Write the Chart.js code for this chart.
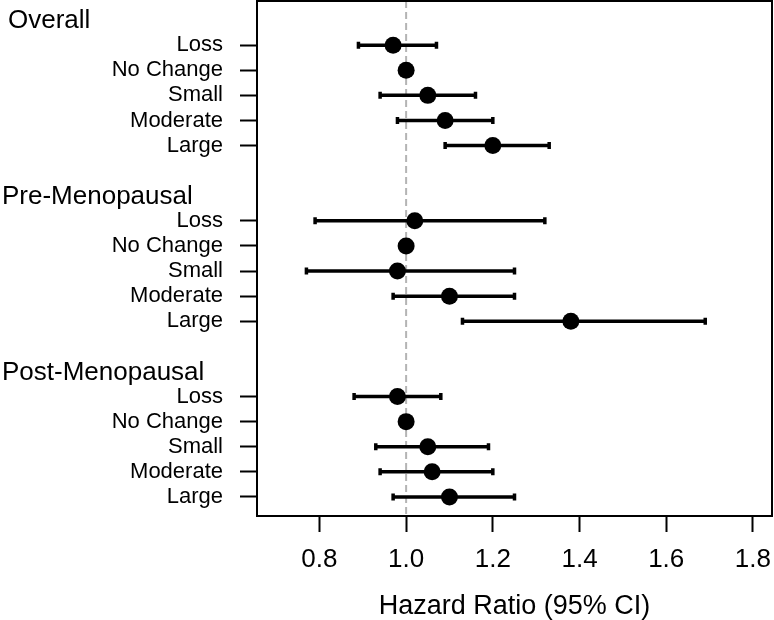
<!DOCTYPE html>
<html>
<head>
<meta charset="utf-8">
<script src="https://cdn.jsdelivr.net/npm/chart.js@4.4.1/dist/chart.umd.min.js"></script>
<style>
  html, body { margin: 0; padding: 0; background: #ffffff; }
  canvas { display: block; }
</style>
</head>
<body>
<canvas id="c" width="774" height="620"></canvas>
<script>
// ---- data ----
const groups = ["Overall", "Pre-Menopausal", "Post-Menopausal"];
const categories = ["Loss", "No Change", "Small", "Moderate", "Large"];

const overallHR = [0.97, 1.00, 1.05, 1.09, 1.20];
const overallLo = [0.89, 1.00, 0.94, 0.98, 1.09];
const overallHi = [1.07, 1.00, 1.16, 1.20, 1.33];

const preHR = [1.02, 1.00, 0.98, 1.10, 1.38];
const preLo = [0.79, 1.00, 0.77, 0.97, 1.13];
const preHi = [1.32, 1.00, 1.25, 1.25, 1.69];

const postHR = [0.98, 1.00, 1.05, 1.06, 1.10];
const postLo = [0.88, 1.00, 0.93, 0.94, 0.97];
const postHi = [1.08, 1.00, 1.19, 1.20, 1.25];

const xTicks = [0.8, 1.0, 1.2, 1.4, 1.6, 1.8];
const refLine = 1.0;

// ---- build rows ----
const groupHR = [overallHR, preHR, postHR];
const groupLo = [overallLo, preLo, postLo];
const groupHi = [overallHi, preHi, postHi];
const rowSpan = categories.length + 2; // header + items + blank
const headerRows = groups.map((g, gi) => gi * rowSpan);
const points = [];
const rowLabels = {};
groups.forEach((g, gi) => {
  categories.forEach((c, ci) => {
    const row = gi * rowSpan + 1 + ci;
    rowLabels[row] = c;
    points.push({ x: groupHR[gi][ci], y: row, lo: groupLo[gi][ci], hi: groupHi[gi][ci] });
  });
});
const itemRows = Object.keys(rowLabels).map(Number);
const lastRow = (groups.length - 1) * rowSpan + categories.length;
const yPad = lastRow * 0.04;

const FONT = "'Liberation Sans', Arial, sans-serif";

const forestPlugin = {
  id: 'forest',
  beforeDatasetsDraw(chart) {
    const { ctx, chartArea, scales } = chart;
    const x = scales.x, y = scales.y;
    // reference line
    ctx.save();
    ctx.strokeStyle = '#b4b4b4';
    ctx.lineWidth = 2;
    ctx.setLineDash([7, 4]);
    const rx = x.getPixelForValue(refLine);
    ctx.beginPath();
    ctx.moveTo(rx, chartArea.top);
    ctx.lineTo(rx, chartArea.bottom);
    ctx.stroke();
    ctx.restore();
    // error bars
    ctx.save();
    ctx.strokeStyle = '#000';
    ctx.lineWidth = 3.5;
    ctx.lineCap = 'butt';
    points.forEach(p => {
      if (p.hi - p.lo <= 0) return;
      const py = y.getPixelForValue(p.y);
      const x0 = x.getPixelForValue(p.lo), x1 = x.getPixelForValue(p.hi);
      ctx.beginPath();
      ctx.moveTo(x0, py); ctx.lineTo(x1, py);
      ctx.stroke();
      ctx.beginPath();
      ctx.moveTo(x0, py - 3.5); ctx.lineTo(x0, py + 3.5);
      ctx.moveTo(x1, py - 3.5); ctx.lineTo(x1, py + 3.5);
      ctx.stroke();
    });
    ctx.restore();
  },
  afterDraw(chart) {
    const { ctx, chartArea, scales } = chart;
    ctx.save();
    // box
    ctx.strokeStyle = '#000';
    ctx.lineWidth = 2;
    ctx.strokeRect(chartArea.left, chartArea.top, chartArea.right - chartArea.left, chartArea.bottom - chartArea.top);
    // group headers
    ctx.fillStyle = '#000';
    ctx.font = '26px ' + FONT;
    ctx.textAlign = 'left';
    ctx.textBaseline = 'middle';
    groups.forEach((g, gi) => {
      ctx.fillText(g, gi === 0 ? 8 : 2, scales.y.getPixelForValue(headerRows[gi]) + 1);
    });
    ctx.restore();
  }
};

new Chart(document.getElementById('c'), {
  type: 'scatter',
  data: {
    datasets: [{
      data: points,
      pointRadius: 8.5,
      pointHoverRadius: 8.5,
      pointBackgroundColor: '#000',
      pointBorderWidth: 0,
      showLine: false,
      clip: false
    }]
  },
  options: {
    responsive: false,
    animation: false,
    devicePixelRatio: 1,
    layout: { autoPadding: false, padding: { top: 1, right: 2, bottom: 0, left: 0 } },
    plugins: { legend: { display: false }, tooltip: { enabled: false } },
    scales: {
      x: {
        type: 'linear',
        min: 0.656,
        max: 1.844,
        afterBuildTicks: s => { s.ticks = xTicks.map(v => ({ value: v })); },
        afterFit: s => { s.height = 104; s.paddingLeft = 0; s.paddingRight = 0; },
        border: { display: false },
        grid: { drawOnChartArea: false, drawTicks: true, tickLength: 16, tickColor: '#000', tickWidth: 2 },
        ticks: {
          color: '#000',
          font: { family: FONT, size: 26 },
          padding: 12,
          maxRotation: 0,
          callback: v => Number(v).toFixed(1)
        },
        title: {
          display: true,
          text: 'Hazard Ratio (95% CI)',
          color: '#000',
          font: { family: FONT, size: 27, lineHeight: 1.0 },
          padding: { top: 0, bottom: 0 }
        }
      },
      y: {
        type: 'linear',
        reverse: true,
        min: -yPad,
        max: lastRow + yPad,
        afterBuildTicks: s => { s.ticks = itemRows.map(v => ({ value: v })); },
        afterFit: s => { s.width = 257; s.paddingTop = 0; s.paddingBottom = 0; },
        border: { display: false },
        grid: { drawOnChartArea: false, drawTicks: true, tickLength: 17, tickColor: '#000', tickWidth: 2 },
        ticks: {
          color: '#000',
          font: { family: FONT, size: 22 },
          padding: 17,
          autoSkip: false,
          callback: v => rowLabels[v] || ''
        }
      }
    }
  },
  plugins: [forestPlugin]
});
</script>
</body>
</html>
